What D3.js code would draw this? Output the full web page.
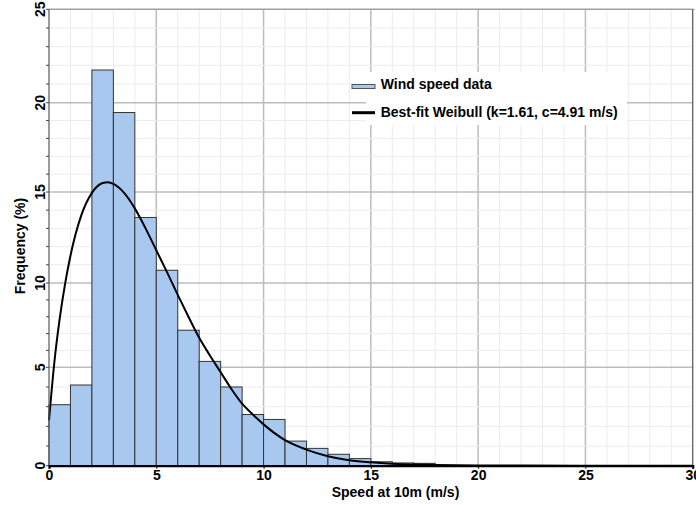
<!DOCTYPE html>
<html><head><meta charset="utf-8">
<script src="https://cdn.jsdelivr.net/npm/d3@7"></script>
<style>body{margin:0;background:#fff}svg{display:block}text{font-family:"Liberation Sans",Arial,sans-serif;font-weight:bold;fill:#000}</style>
</head><body>
<svg id="c" width="696" height="507"></svg>
<script>
// ---- data ----
const binStarts = [0,1,2,3,4,5,6,7,8,9,10,11,12,13,14,15,16,17];
const binFreq   = [3.1,4.1,21.75,19.45,13.6,10.7,7.2,5.35,4.0,2.6,2.35,1.25,0.88,0.58,0.36,0.2,0.14,0.12];
const fitX = [0,0.25,0.5,0.75,1,1.5,2,2.5,2.75,3,3.5,4,4.5,5,5.5,6,6.5,7,7.5,8,8.5,9,9.5,10,11,12,13,14,15,16,17,18,20,22,25,30];
const fitY = [2.3,5.3,7.9,9.95,11.5,13.7,14.95,15.5,15.55,15.45,14.95,14.1,13.0,11.8,10.6,9.3,8.0,6.75,5.7,4.75,3.9,3.15,2.6,2.1,1.3,0.82,0.48,0.28,0.17,0.1,0.06,0.04,0.015,0.005,0,0];
const xTicks = [0,5,10,15,20,25,30];
const yTicks = [0,5,10,15,20,25];
const legendLabels = ["Wind speed data","Best-fit Weibull (k=1.61, c=4.91 m/s)"];
const xTitle = "Speed at 10m (m/s)";
const yTitle = "Frequency (%)";

// ---- scales ----
const x = d3.scaleLinear().domain([0,30]).range([49,692.7]);
const y = d3.scaleLinear().domain(yTicks).range([465.7,367.3,283,192,102.7,9.3]);
const svg = d3.select("#c");
const barFill = "#a8c8ef";

// grid
const g = svg.append("g");
g.selectAll(".vmin").data(d3.range(0,31)).join("line")
  .attr("x1",d=>x(d)).attr("x2",d=>x(d)).attr("y1",y(0)).attr("y2",y(25))
  .attr("stroke",d=>d%5===0?"#bdbdbd":"#ececec").attr("stroke-width",d=>d%5===0?1.5:1);
g.selectAll(".hmin").data(d3.range(0,26)).join("line")
  .attr("y1",d=>y(d)).attr("y2",d=>y(d)).attr("x1",x(0)).attr("x2",x(30))
  .attr("stroke",d=>d%5===0?"#bdbdbd":"#ececec").attr("stroke-width",d=>d%5===0?1.5:1);

// bars
svg.append("g").selectAll("rect").data(binStarts).join("rect")
  .attr("x",(d)=>x(d)).attr("width",(d)=>x(d+1)-x(d))
  .attr("y",(d,i)=>y(binFreq[i])).attr("height",(d,i)=>y(0)-y(binFreq[i]))
  .attr("fill",barFill).attr("stroke","#333").attr("stroke-width",1);

// fit curve
const line = d3.line().x((d,i)=>x(fitX[i])).y((d,i)=>y(fitY[i])).curve(d3.curveMonotoneX);
svg.append("path").datum(fitX).attr("d",line).attr("fill","none").attr("stroke","#000").attr("stroke-width",2);

// borders
svg.append("line").attr("x1",x(0)).attr("x2",x(30)+2).attr("y1",y(25)).attr("y2",y(25)).attr("stroke","#999").attr("stroke-width",1);
svg.append("line").attr("x1",x(30)).attr("x2",x(30)).attr("y1",y(25)).attr("y2",y(0)).attr("stroke","#555").attr("stroke-width",1);
svg.append("line").attr("x1",x(0)).attr("x2",x(0)).attr("y1",y(25)).attr("y2",y(0)).attr("stroke","#666").attr("stroke-width",1);

// y minor ticks
svg.append("g").selectAll("line").data(d3.range(0,26)).join("line")
  .attr("x1",x(0)-3).attr("x2",x(0)).attr("y1",d=>y(d)).attr("y2",d=>y(d)).attr("stroke","#444");

// x axis
const xa = svg.append("g").attr("transform",`translate(0,${y(0)})`)
  .call(d3.axisBottom(x).tickValues(xTicks).tickSize(3).tickPadding(1.5).tickFormat(d3.format("d")));
xa.select(".domain").attr("stroke","#000").attr("stroke-width",2.2);
xa.selectAll("text").style("font-size","14px").style("font-family","'Liberation Sans',Arial,sans-serif").style("font-weight","bold");

// y tick labels
svg.append("g").selectAll("text").data(yTicks).join("text")
  .attr("transform",d=>`translate(45,${y(d)}) rotate(-90)`).attr("text-anchor","middle")
  .style("font-size","14px").text(d=>d);

// titles
svg.append("text").attr("x",395.5).attr("y",497.3).attr("text-anchor","middle").style("font-size","14px").text(xTitle);
svg.append("text").attr("transform","translate(25,246) rotate(-90)").attr("text-anchor","middle").style("font-size","14px").text(yTitle);

// legend
svg.append("rect").attr("x",366).attr("y",72).attr("width",261).attr("height",53).attr("fill","#fff");
svg.append("rect").attr("x",352).attr("y",84.5).attr("width",23).attr("height",4).attr("fill",barFill).attr("stroke","#555").attr("stroke-width",1);
svg.append("line").attr("x1",352).attr("x2",375).attr("y1",112.7).attr("y2",112.7).attr("stroke","#000").attr("stroke-width",3);
svg.append("g").selectAll("text").data(legendLabels).join("text")
  .attr("x",380.7).attr("y",(d,i)=>[89.3,117.3][i]).style("font-size","14px").text(d=>d);
</script>
</body></html>
